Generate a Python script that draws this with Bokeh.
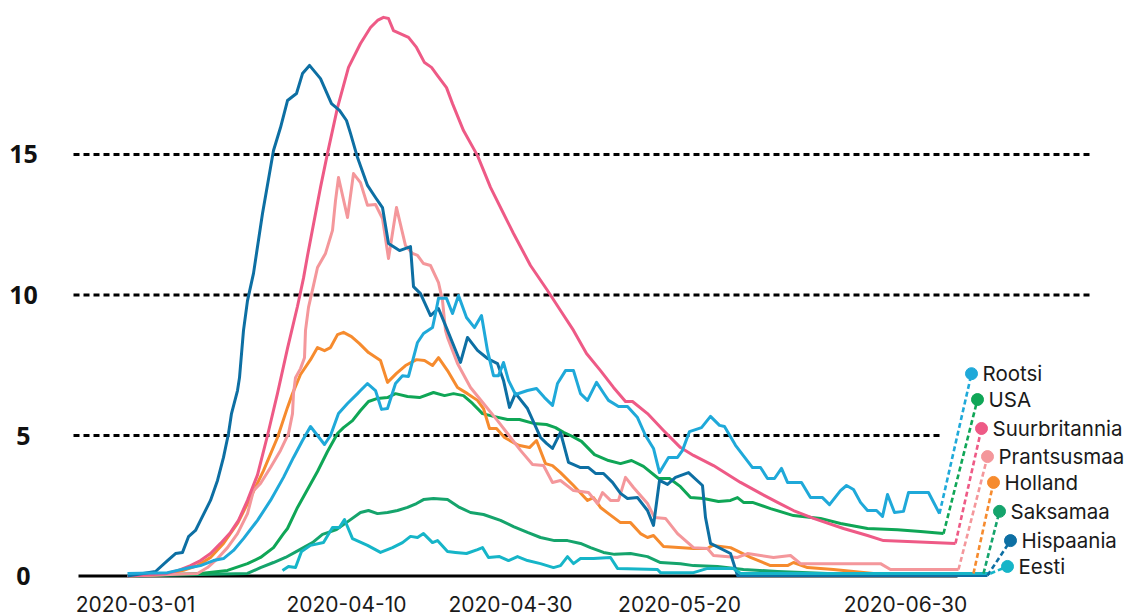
from bokeh.plotting import figure
from bokeh.models import Range1d
from bokeh.core.properties import value
from bokeh.embed import file_html
from bokeh.resources import INLINE

# x is a row/position index along the time axis (dates are not evenly spaced)
TICK_POS = [1.7, 22.8, 39.2, 56.1, 78.7]
TICK_LABELS = ["2020-03-01", "2020-04-10", "2020-04-30", "2020-05-20", "2020-06-30"]

Y_TICKS = [0, 5, 10, 15]

# --- series (deaths per million, 7-day average) ---
X_ES = [0.9,3.7,4.9,5.7,6.4,7.0,7.7,8.2,9.2,9.9,10.5,11.0,11.3,11.9,12.1,12.5,12.9,13.5,14.4,15.5,16.2,16.9,17.8,18.4,19.1,20.2,21.3,22.1,22.8,23.2,23.9,24.9,25.7,26.4,27.0,28.1,29.2,29.5,30.2,31.2,32.0,32.9,34.2,34.9,35.9,36.9,37.9,38.5,39.1,39.7,40.9,42.2,42.8,43.4,44.2,45.0,46.2,47.0,47.7,48.5,49.4,50.2,50.9,51.9,52.9,53.5,54.1,54.9,55.7,57.0,58.4,58.7,59.2,61.2,61.9,86.9]
Y_ES = [0.0,0.16,0.55,0.8,0.84,1.4,1.62,1.98,2.69,3.4,4.22,5.07,5.78,6.6,7.06,8.74,9.8,10.77,12.9,15.14,15.96,16.92,17.17,17.88,18.17,17.7,16.81,16.57,16.21,15.75,14.89,13.9,13.47,13.11,11.83,11.58,11.72,10.3,10.05,9.27,9.52,8.74,7.6,8.49,8.03,7.74,7.56,6.96,6.0,6.5,5.96,4.93,4.72,4.54,5.11,4.04,3.86,3.86,3.65,3.65,3.33,2.94,2.76,2.79,2.33,1.8,3.4,3.26,3.51,3.68,3.22,2.08,1.16,0.8,0.02,0.02]

X_UK = [0.9,4.7,6.0,7.2,8.2,9.2,10.2,11.2,12.0,12.9,13.9,14.9,15.9,16.9,17.9,18.5,18.9,20.2,20.9,21.9,23.0,24.2,25.2,25.9,26.5,27.0,27.5,29.0,29.8,30.6,31.3,31.9,32.8,33.4,34.5,35.9,37.2,38.5,39.5,41.2,42.9,44.2,45.5,46.8,48.2,49.5,50.7,51.4,52.9,54.5,56.2,57.5,59.5,62.2,64.2,65.9,67.5,69.5,72.5,74.9,76.5,83.7]
Y_UK = [0.0,0.08,0.2,0.37,0.55,0.8,1.16,1.55,1.98,2.69,3.6,5.0,6.5,8.1,9.6,10.6,11.4,13.83,15.04,16.67,18.1,18.95,19.52,19.77,19.88,19.84,19.41,19.17,18.81,18.27,18.1,17.81,17.38,16.81,15.85,14.96,13.83,12.9,12.19,11.05,10.16,9.45,8.74,7.92,7.31,6.71,6.21,6.21,5.78,5.18,4.57,4.29,3.93,3.33,2.94,2.62,2.33,2.05,1.69,1.44,1.26,1.16]

X_FR = [0.9,5.2,7.9,8.9,9.9,10.9,11.9,12.9,13.5,14.2,15.2,16.2,17.0,17.4,17.5,17.7,18.2,18.6,18.7,19.0,19.5,19.9,20.7,21.4,21.7,22.0,22.9,23.5,24.2,24.9,25.7,26.4,27.0,27.8,28.7,29.4,29.9,30.5,31.2,32.0,32.4,32.7,32.9,33.9,35.2,36.5,37.9,38.9,40.2,41.4,42.5,43.4,44.2,45.5,47.0,47.9,48.4,49.2,50.0,50.7,51.5,52.9,53.6,54.7,55.9,57.5,58.9,59.5,61.9,62.9,65.5,67.2,68.2,76.2,77.2,84.0]
Y_FR = [0.0,0.05,0.09,0.3,0.62,1.01,1.51,2.22,3.04,3.29,3.86,4.47,5.07,5.78,6.49,7.06,7.38,7.77,8.74,9.56,10.34,10.98,11.48,12.3,13.36,14.18,12.76,14.32,14.0,13.19,13.22,12.72,11.3,13.11,11.76,11.48,11.41,11.12,11.05,10.44,9.8,8.74,8.49,7.56,6.71,6.14,5.53,5.07,4.47,3.97,3.93,3.33,3.4,3.04,2.97,2.58,2.97,2.69,2.69,3.51,3.15,2.58,2.08,2.05,1.51,1.01,0.98,0.73,0.66,0.8,0.66,0.73,0.44,0.44,0.23,0.23]

X_NL = [0.9,4.7,6.5,7.9,9.2,10.5,11.9,13.2,14.5,15.9,16.9,17.4,18.2,19.2,19.9,20.6,21.2,21.9,22.5,23.3,24.1,25.0,26.2,26.9,27.8,28.7,29.8,30.6,31.4,32.0,32.9,33.9,34.9,35.9,36.5,37.1,37.8,38.6,40.0,41.1,41.8,42.7,43.4,44.2,45.5,46.9,47.5,48.2,49.0,50.2,51.2,52.2,52.9,53.5,54.5,57.5,58.9,59.4,61.2,63.2,65.2,66.9,67.5,68.9,71.5,75.5,85.5]
Y_NL = [0.0,0.05,0.2,0.37,0.66,1.16,1.87,2.79,3.75,4.93,6.0,6.49,7.17,7.7,8.13,8.02,8.13,8.59,8.67,8.52,8.27,7.95,7.67,6.89,7.21,7.49,7.7,7.67,7.49,7.77,7.31,6.71,6.49,6.25,5.96,5.25,5.25,4.93,4.65,4.57,4.82,4.0,3.93,3.68,3.22,2.69,2.79,2.44,2.22,1.9,1.9,1.51,1.37,1.44,1.05,0.98,0.98,1.09,1.01,0.66,0.37,0.37,0.48,0.3,0.23,0.09,0.09]

X_SE = [0.9,4.9,7.2,8.2,9.5,10.5,11.5,12.5,13.9,15.2,16.5,17.5,18.4,19.2,19.9,20.6,21.2,22.0,22.9,23.9,24.2,24.9,25.7,26.3,26.9,27.7,28.4,29.0,29.9,30.5,31.4,31.7,32.0,32.8,33.4,34.0,34.8,35.6,36.3,36.9,37.5,38.0,38.5,39.0,39.7,40.9,41.8,42.6,43.4,43.9,44.7,45.5,46.2,46.9,47.8,48.6,49.0,50.0,50.9,51.9,52.7,53.5,54.1,55.0,55.9,56.4,57.1,58.3,59.2,60.1,60.6,61.7,63.4,64.2,64.9,65.6,66.3,66.9,68.3,69.2,70.4,71.1,72.2,72.8,73.5,74.2,74.9,75.8,76.4,76.9,77.6,78.5,79.0,81.0,82.1]
Y_SE = [0.09,0.12,0.3,0.37,0.55,0.62,0.91,1.33,1.98,2.69,3.51,4.22,4.82,5.32,5.0,4.68,5.0,5.78,6.14,6.49,6.6,6.85,6.6,5.93,5.96,6.85,7.13,7.1,8.31,8.63,8.84,9.34,9.88,9.88,9.34,9.98,9.2,8.84,9.27,8.02,7.13,7.13,7.6,6.96,6.46,6.6,6.67,6.35,6.07,6.85,7.31,7.31,6.49,6.25,6.89,6.46,6.25,6.03,6.03,5.64,5.0,4.54,3.68,4.22,4.22,4.47,5.14,5.28,5.68,5.36,5.32,4.65,3.86,3.86,3.47,3.47,3.83,3.33,3.33,2.79,2.79,2.54,3.04,3.22,3.08,2.62,2.33,2.33,2.12,2.9,2.26,2.3,2.97,2.97,2.22]

X_US = [0.9,8.2,10.9,12.9,14.2,15.5,16.5,16.9,17.9,18.9,19.9,20.9,21.9,22.5,23.4,24.2,25.0,25.9,26.9,27.7,28.9,30.1,31.5,32.6,33.5,34.5,35.4,36.4,37.5,38.9,40.1,41.5,42.8,43.7,44.5,45.2,46.3,47.6,49.0,50.2,51.3,52.5,54.0,55.1,56.2,57.2,58.5,60.0,61.2,61.9,62.5,63.4,65.2,67.5,70.2,72.2,74.9,77.9,80.2,82.5]
Y_US = [0.0,0.09,0.2,0.44,0.66,1.01,1.51,1.69,2.44,3.08,3.72,4.43,5.07,5.28,5.53,5.89,6.21,6.32,6.35,6.49,6.39,6.35,6.53,6.42,6.49,6.42,6.14,5.78,5.68,5.57,5.57,5.43,5.39,5.28,5.11,5.0,4.79,4.32,4.11,4.0,4.11,3.9,3.47,3.47,3.18,2.79,2.76,2.65,2.69,2.79,2.62,2.62,2.4,2.15,2.05,1.87,1.69,1.65,1.58,1.51]

X_DE = [0.9,12.9,14.2,15.5,16.7,18.0,19.4,20.4,21.8,23.1,24.2,25.0,25.9,26.9,27.9,28.9,29.8,30.5,31.5,32.9,34.1,35.2,36.5,38.2,39.5,40.9,42.2,43.6,44.9,46.2,47.2,48.5,49.6,51.2,52.9,54.2,56.2,57.5,59.9,62.5,65.9,70.9,86.5]
Y_DE = [0.0,0.09,0.3,0.48,0.66,0.91,1.19,1.48,1.65,1.98,2.26,2.33,2.22,2.26,2.33,2.44,2.58,2.72,2.76,2.72,2.44,2.26,2.19,1.98,1.76,1.55,1.37,1.26,1.26,1.16,1.01,0.84,0.77,0.8,0.69,0.48,0.44,0.37,0.34,0.23,0.16,0.09,0.09]

X_EE = [16.4,17.0,17.7,18.3,19.2,20.5,21.4,22.1,22.6,23.4,24.9,26.2,27.4,28.4,29.2,29.9,30.5,31.4,31.9,32.9,33.7,34.8,35.9,36.4,37.0,38.1,39.0,39.9,40.9,42.2,43.5,44.2,44.9,45.5,46.2,47.5,49.2,49.9,53.9,54.2,57.5,58.9,61.5,62.2,87.2]
Y_EE = [0.2,0.34,0.3,0.87,1.09,1.19,1.73,1.73,2.01,1.33,1.09,0.84,1.01,1.19,1.41,1.37,1.51,1.19,1.26,0.87,0.84,0.8,0.94,1.01,0.66,0.69,0.55,0.69,0.55,0.44,0.3,0.37,0.69,0.44,0.62,0.62,0.66,0.27,0.23,0.12,0.12,0.27,0.27,0.09,0.09]

# legend order (top to bottom) with colours
NAMES = ["Rootsi", "USA", "Suurbritannia", "Prantsusmaa", "Holland", "Saksamaa", "Hispaania", "Eesti"]
COLORS = ["#1fa9d9", "#0fa656", "#ee5a86", "#f4979b", "#f68b2e", "#15a46c", "#0d6fa3", "#16b5c8"]
SERIES_X = [X_SE, X_US, X_UK, X_FR, X_NL, X_DE, X_ES, X_EE]
SERIES_Y = [Y_SE, Y_US, Y_UK, Y_FR, Y_NL, Y_DE, Y_ES, Y_EE]
LABEL_Y = [7.2, 6.28, 5.25, 4.25, 3.33, 2.3, 1.26, 0.34]
LABEL_DX = [3.2, 3.4, 2.6, 2.9, 2.0, 1.6, 2.3, 1.7]
DRAW_ORDER = [5, 1, 4, 3, 2, 6, 0, 7]

FONT = "Inter"

p = figure(width=1126, height=616, output_backend="svg", toolbar_location=None,
           x_range=Range1d(-11.8, 100.8), y_range=Range1d(-1.441, 20.48),
           min_border_left=0, min_border_right=0, min_border_top=0, min_border_bottom=0)
p.outline_line_color = None
p.background_fill_color = "white"
p.border_fill_color = "white"
p.grid.visible = False
p.axis.visible = False

# grid lines (dashed) and baseline
p.segment(x0=[-4.5, -4.5, -4.5], y0=[5, 10, 15], x1=[82.4, 97.5, 97.5], y1=[5, 10, 15],
          line_color="black", line_width=2.8, line_dash="6 4")
p.segment(x0=[-4.0], y0=[0], x1=[83.9], y1=[0], line_color="black", line_width=3)

# y tick labels
p.text(x=[-9.5] * len(Y_TICKS), y=Y_TICKS, text=[str(v) for v in Y_TICKS],
       text_align="center", text_baseline="middle", text_font=value("Open Sans"),
       text_font_size="25px", text_font_style="bold", text_color="#111111")

# x tick labels
p.text(x=TICK_POS, y=[-0.98] * len(TICK_POS), text=TICK_LABELS,
       text_align="center", text_baseline="middle", text_font=value(FONT),
       text_font_size="21px", text_color="#1a1a1a")

for i in DRAW_ORDER:
    xs, ys, c = SERIES_X[i], SERIES_Y[i], COLORS[i]
    p.line(xs, ys, line_color=c, line_width=3, line_join="round")

for i in range(len(NAMES)):
    xs, ys, c = SERIES_X[i], SERIES_Y[i], COLORS[i]
    lx = xs[-1] + LABEL_DX[i]
    p.line([xs[-1], lx], [ys[-1], LABEL_Y[i]], line_color=c, line_width=2.6, line_dash="5 3")
    p.scatter([lx], [LABEL_Y[i]], size=12, fill_color=c, line_color=c)
    p.text(x=[lx], y=[LABEL_Y[i]], text=[NAMES[i]], x_offset=11,
           text_align="left", text_baseline="middle", text_font=value(FONT),
           text_font_size="20.5px", text_color="#1a1a1a")

open("out.html", "w").write(file_html(p, INLINE))
